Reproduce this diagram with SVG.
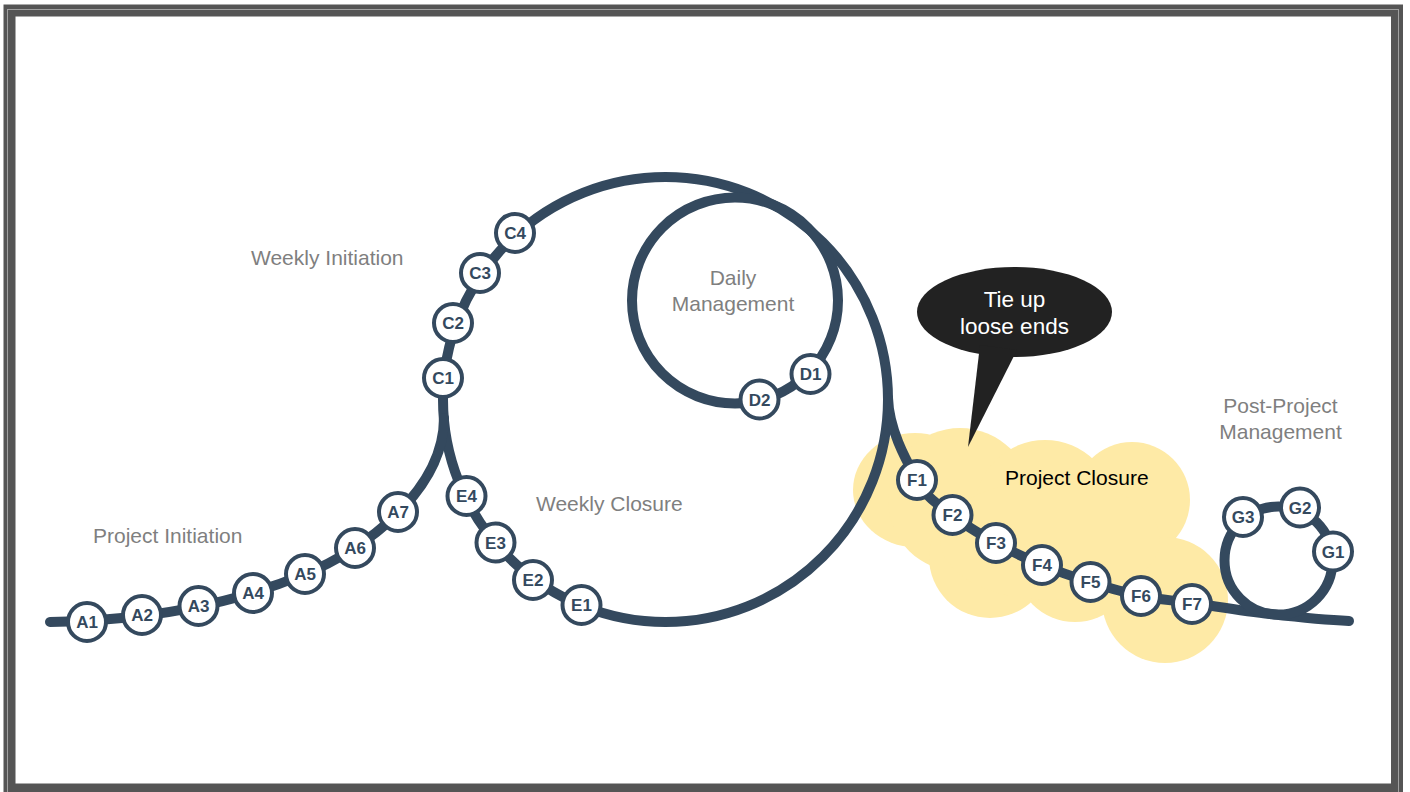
<svg xmlns="http://www.w3.org/2000/svg" width="1410" height="792" viewBox="0 0 1410 792">
<style>
.ln{fill:none;stroke:#34495E;stroke-width:10;stroke-linecap:round;stroke-linejoin:round}
.nd circle{fill:#fff;stroke:#34495E;stroke-width:4}
.nd text{font-family:"Liberation Sans",Arial,sans-serif;font-weight:bold;font-size:17px;fill:#34495E;text-anchor:middle}
.lbl{font-family:"Liberation Sans",Arial,sans-serif;font-size:21px;fill:#7f7f7f}
.cloud{fill:#FEEAA6}
</style>
<rect x="0" y="0" width="1410" height="792" fill="#fff"/>
<g id="frame">
<rect x="9.5" y="10.5" width="1387.5" height="779" fill="none" stroke="#555" stroke-width="12"/>
<rect x="7.5" y="9.5" width="1391" height="790" fill="none" stroke="#a0a0a0" stroke-width="1"/>
</g>
<g id="project-closure-cloud">
<ellipse class="cloud" cx="915" cy="490" rx="62" ry="57"/>
<circle class="cloud" cx="960" cy="500" r="72"/>
<circle class="cloud" cx="1045" cy="510" r="70"/>
<circle class="cloud" cx="1132" cy="500" r="58"/>
<circle class="cloud" cx="990" cy="557" r="61"/>
<circle class="cloud" cx="1075" cy="562" r="60"/>
<circle class="cloud" cx="1165" cy="600" r="63"/>
<ellipse class="cloud" cx="1050" cy="540" rx="110" ry="60"/>
<text x="1005" y="485" style="font-family:'Liberation Sans',Arial,sans-serif;font-size:21px;fill:#000">Project Closure</text>
</g>
<g id="connectors">
<circle class="ln" cx="665.5" cy="399.5" r="222.5"/>
<circle class="ln" cx="735" cy="300.5" r="103"/>
<path class="ln" d="M50 622 C150 620 230 605 305 574 C365 550 444 490 444 418"/>
<path class="ln" d="M888 398 C889 430 906.3 460.5 917 480 C927.7 499.5 938.8 504.5 952 515 C965.2 525.5 981 534.7 996 543 C1011 551.3 1026.3 558.5 1042 565 C1057.7 571.5 1073.5 576.8 1090 582 C1106.5 587.2 1124 592.5 1141 596 C1158 599.5 1170.5 600 1192 603 C1213.5 606 1243.7 611 1270 614 C1296.3 617 1325 620 1349 621"/>
<circle class="ln" cx="1278.5" cy="560.5" r="54"/>
</g>
<g id="speech-bubble">
<ellipse cx="1014.5" cy="312" rx="97.5" ry="45" fill="#222"/>
<polygon points="980,345 1017,350 968,447" fill="#222"/>
<text x="1014.5" y="307" text-anchor="middle" style="font-family:'Liberation Sans',Arial,sans-serif;font-size:22.5px;fill:#fff">Tie up</text>
<text x="1014.5" y="334" text-anchor="middle" style="font-family:'Liberation Sans',Arial,sans-serif;font-size:22.5px;fill:#fff">loose ends</text>
</g>
<g id="labels">
<text class="lbl" x="93" y="543">Project Initiation</text>
<text class="lbl" x="251" y="265">Weekly Initiation</text>
<text class="lbl" x="536" y="511">Weekly Closure</text>
<text class="lbl" x="733" y="285" text-anchor="middle">Daily</text>
<text class="lbl" x="733" y="311" text-anchor="middle">Management</text>
<text class="lbl" x="1280.5" y="413" text-anchor="middle">Post-Project</text>
<text class="lbl" x="1280.5" y="439" text-anchor="middle">Management</text>
</g>
<g id="A1" class="nd"><circle cx="87" cy="622" r="19"/><text x="87" y="628">A1</text></g>
<g id="A2" class="nd"><circle cx="142" cy="615" r="19"/><text x="142" y="621">A2</text></g>
<g id="A3" class="nd"><circle cx="198.5" cy="606" r="19"/><text x="198.5" y="612">A3</text></g>
<g id="A4" class="nd"><circle cx="253" cy="593" r="19"/><text x="253" y="599">A4</text></g>
<g id="A5" class="nd"><circle cx="305" cy="574" r="19"/><text x="305" y="580">A5</text></g>
<g id="A6" class="nd"><circle cx="355" cy="548" r="19"/><text x="355" y="554">A6</text></g>
<g id="A7" class="nd"><circle cx="398" cy="512" r="19"/><text x="398" y="518">A7</text></g>
<g id="C1" class="nd"><circle cx="443" cy="378" r="19"/><text x="443" y="384">C1</text></g>
<g id="C2" class="nd"><circle cx="453" cy="323" r="19"/><text x="453" y="329">C2</text></g>
<g id="C3" class="nd"><circle cx="480" cy="273" r="19"/><text x="480" y="279">C3</text></g>
<g id="C4" class="nd"><circle cx="515" cy="233" r="19"/><text x="515" y="239">C4</text></g>
<g id="D1" class="nd"><circle cx="810.5" cy="374" r="19"/><text x="810.5" y="380">D1</text></g>
<g id="D2" class="nd"><circle cx="759.5" cy="399.5" r="19"/><text x="759.5" y="405.5">D2</text></g>
<g id="E1" class="nd"><circle cx="581.5" cy="605" r="19"/><text x="581.5" y="611">E1</text></g>
<g id="E2" class="nd"><circle cx="533" cy="580" r="19"/><text x="533" y="586">E2</text></g>
<g id="E3" class="nd"><circle cx="495.5" cy="542.5" r="19"/><text x="495.5" y="548.5">E3</text></g>
<g id="E4" class="nd"><circle cx="466.5" cy="496" r="19"/><text x="466.5" y="502">E4</text></g>
<g id="F1" class="nd"><circle cx="917" cy="480" r="19"/><text x="917" y="486">F1</text></g>
<g id="F2" class="nd"><circle cx="952.5" cy="515" r="19"/><text x="952.5" y="521">F2</text></g>
<g id="F3" class="nd"><circle cx="996" cy="543" r="19"/><text x="996" y="549">F3</text></g>
<g id="F4" class="nd"><circle cx="1042" cy="565" r="19"/><text x="1042" y="571">F4</text></g>
<g id="F5" class="nd"><circle cx="1090.5" cy="582" r="19"/><text x="1090.5" y="588">F5</text></g>
<g id="F6" class="nd"><circle cx="1141" cy="596" r="19"/><text x="1141" y="602">F6</text></g>
<g id="F7" class="nd"><circle cx="1192" cy="604" r="19"/><text x="1192" y="610">F7</text></g>
<g id="G1" class="nd"><circle cx="1333" cy="551.5" r="19"/><text x="1333" y="557.5">G1</text></g>
<g id="G2" class="nd"><circle cx="1300" cy="507.5" r="19"/><text x="1300" y="513.5">G2</text></g>
<g id="G3" class="nd"><circle cx="1243" cy="517" r="19"/><text x="1243" y="523">G3</text></g>
</svg>
